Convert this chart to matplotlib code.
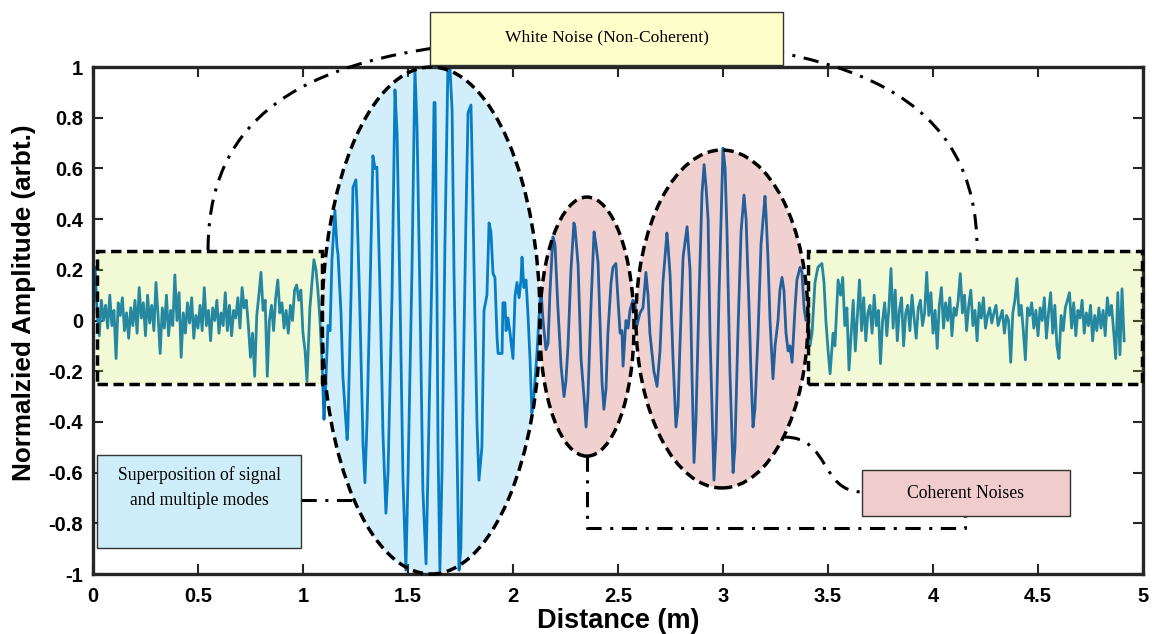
import numpy as np
import matplotlib
matplotlib.use('Agg')
import matplotlib.pyplot as plt
from matplotlib import font_manager
from matplotlib.patches import Ellipse, Rectangle, PathPatch
from matplotlib.path import Path

# ---- values ----
# white noise before the signal, 0.01 m spacing starting at 0 m
noise_left = [0.10, 0.21, 0.03, -0.06, 0.08, 0.00, 0.06, -0.03, 0.10, -0.02,
              0.04, -0.15, 0.07, 0.02, 0.09, -0.04, 0.03, -0.07, 0.05, -0.02,
              0.08, -0.05, 0.13, 0.01, 0.07, -0.06, 0.10, -0.01, 0.06, -0.04,
              0.15, 0.02, -0.13, 0.05, -0.03, 0.10, -0.06, 0.04, -0.02, 0.18,
              0.00, 0.11, -0.145, 0.03, -0.05, 0.07, -0.01, 0.09, -0.07, 0.02,
              -0.03, 0.06, -0.04, 0.13, -0.02, 0.04, -0.08, 0.05, 0.00, 0.08,
              -0.05, 0.03, -0.02, 0.11, -0.04, 0.06, -0.06, 0.04, 0.01, 0.09,
              -0.03, 0.13, 0.05, 0.08, -0.02, -0.145, -0.05, -0.22, 0.02, 0.10,
              0.19, 0.04, 0.08, -0.22, 0.00, 0.06, -0.04, 0.09, 0.16, 0.03,
              0.07, -0.03, 0.04, -0.05, 0.06, 0.00, 0.12, 0.14, 0.08, 0.12,
              -0.05]

# signal + modes + coherent noise (distance in m, amplitude)
osc_dist = [1.010, 1.019, 1.033, 1.052, 1.062, 1.071, 1.081, 1.090, 1.100, 1.107,
            1.119, 1.129, 1.138, 1.152, 1.162, 1.167, 1.181, 1.190, 1.210, 1.214,
            1.229, 1.238, 1.252, 1.257, 1.271, 1.286, 1.295, 1.305, 1.319, 1.333,
            1.343, 1.352, 1.367, 1.381, 1.395, 1.405, 1.424, 1.438, 1.448, 1.462,
            1.476, 1.490, 1.500, 1.519, 1.533, 1.543, 1.557, 1.571, 1.586, 1.595,
            1.614, 1.624, 1.629, 1.638, 1.643, 1.652, 1.662, 1.676, 1.690, 1.700,
            1.710, 1.719, 1.733, 1.743, 1.752, 1.762, 1.776, 1.786, 1.800, 1.805,
            1.819, 1.829, 1.838, 1.852, 1.862, 1.876, 1.886, 1.895, 1.905, 1.914,
            1.924, 1.929, 1.948, 1.952, 1.962, 1.967, 1.976, 1.986, 2.000, 2.010,
            2.019, 2.029, 2.038, 2.043, 2.052, 2.062, 2.071, 2.081, 2.090, 2.100,
            2.114, 2.124, 2.133, 2.143, 2.157, 2.167, 2.176, 2.190, 2.200, 2.214,
            2.229, 2.243, 2.252, 2.262, 2.276, 2.290, 2.295, 2.310, 2.324, 2.338,
            2.348, 2.357, 2.371, 2.386, 2.395, 2.405, 2.414, 2.424, 2.433, 2.443,
            2.452, 2.467, 2.476, 2.490, 2.495, 2.510, 2.519, 2.524, 2.538, 2.548,
            2.557, 2.571, 2.581, 2.590, 2.605, 2.619, 2.633, 2.643, 2.652, 2.671,
            2.686, 2.700, 2.714, 2.733, 2.738, 2.748, 2.762, 2.776, 2.786, 2.795,
            2.810, 2.829, 2.843, 2.852, 2.862, 2.871, 2.886, 2.900, 2.910, 2.919,
            2.929, 2.938, 2.957, 2.967, 2.981, 3.000, 3.010, 3.019, 3.033, 3.048,
            3.057, 3.071, 3.086, 3.100, 3.110, 3.124, 3.133, 3.143, 3.152, 3.167,
            3.181, 3.200, 3.205, 3.214, 3.224, 3.238, 3.248, 3.262, 3.271, 3.281,
            3.290, 3.300, 3.310, 3.319, 3.329, 3.343, 3.352, 3.367, 3.376, 3.386,
            3.395, 3.405, 3.414, 3.424, 3.438, 3.452, 3.471, 3.481, 3.490, 3.500,
            3.510, 3.524, 3.533, 3.548]
osc_amp = [-0.12, -0.24, 0.05, 0.24, 0.20, 0.12, 0.00, -0.15, -0.39, -0.28,
           -0.02, -0.04, 0.24, 0.435, 0.29, 0.26, 0.03, -0.22, -0.47, -0.42,
           0.11, 0.525, 0.555, 0.46, 0.04, -0.49, -0.64, -0.40, 0.11, 0.65,
           0.60, 0.605, 0.11, -0.45, -0.76, -0.60, 0.10, 0.91, 0.74, 0.10,
           -0.62, -0.985, -0.62, 0.20, 0.995, 0.765, 0.10, -0.67, -0.96, -0.60,
           0.20, 0.86, 0.86, 0.10, -0.50, -0.985, -0.60, 0.30, 0.995, 0.995,
           0.83, 0.20, -0.50, -0.985, -0.90, -0.30, 0.40, 0.82, 0.85, 0.65,
           0.00, -0.42, -0.63, -0.50, 0.04, 0.10, 0.385, 0.35, 0.185, 0.17,
           -0.065, -0.13, -0.13, 0.07, 0.07, -0.04, 0.01, -0.05, -0.15, 0.10,
           0.15, 0.09, 0.16, 0.25, 0.13, 0.16, 0.03, -0.15, -0.365, -0.29,
           -0.13, 0.015, 0.13, 0.00, -0.115, -0.09, 0.11, 0.33, 0.30, 0.05,
           -0.18, -0.30, -0.24, -0.10, 0.20, 0.385, 0.37, 0.22, -0.15, -0.30,
           -0.42, -0.30, 0.05, 0.35, 0.30, 0.23, 0.00, -0.245, -0.35, -0.27,
           -0.05, 0.15, 0.21, 0.225, 0.15, -0.05, -0.04, -0.18, 0.00, -0.03,
           0.04, 0.08, 0.07, -0.02, 0.03, 0.05, 0.19, 0.10, -0.05, -0.20,
           -0.26, -0.12, 0.15, 0.345, 0.30, 0.18, -0.15, -0.42, -0.34, -0.10,
           0.25, 0.37, 0.20, -0.20, -0.56, -0.40, 0.10, 0.50, 0.615, 0.53,
           0.40, -0.05, -0.63, -0.45, 0.10, 0.68, 0.60, 0.35, -0.20, -0.60,
           -0.50, -0.05, 0.35, 0.495, 0.40, 0.05, -0.20, -0.42, -0.35, -0.05,
           0.30, 0.49, 0.42, 0.25, 0.00, -0.23, -0.10, 0.00, 0.12, 0.17,
           0.12, -0.05, -0.12, -0.10, -0.165, 0.05, 0.16, 0.21, 0.19, 0.05,
           0.00, 0.02, -0.10, -0.05, 0.15, 0.21, 0.225, 0.15, 0.00, -0.115,
           -0.21, -0.05, -0.10, 0.16]

# white noise after the signal, 0.01 m spacing from 3.56 m
noise_right = [0.10, 0.17, -0.02, 0.05, -0.195, -0.06, 0.08, -0.12, 0.02, 0.16,
               -0.04, 0.09, -0.08, 0.03, 0.06, -0.05, 0.10, -0.02, 0.04, -0.17,
               0.00, 0.07, -0.06, 0.05, 0.205, -0.03, 0.12, -0.08, 0.04, 0.09,
               -0.10, 0.03, 0.06, -0.04, 0.10, 0.01, -0.07, 0.05, 0.08, -0.02,
               0.03, 0.19, 0.02, 0.11, -0.05, 0.04, -0.11, 0.06, 0.13, -0.03,
               0.07, 0.00, 0.09, -0.06, 0.05, 0.02, 0.08, 0.185, 0.03, 0.10,
               -0.04, 0.06, 0.12, -0.02, 0.04, -0.08, 0.07, 0.01, 0.09, -0.03,
               0.02, 0.05, -0.01, 0.03, 0.06, -0.02, 0.01, 0.04, -0.05, 0.02,
               0.00, -0.165, 0.03, 0.08, 0.165, 0.02, 0.06, -0.04, -0.155, 0.05,
               0.02, 0.07, -0.03, 0.04, -0.06, 0.05, 0.00, 0.09, -0.07, 0.03,
               0.11, -0.05, 0.06, -0.10, -0.15, 0.02, -0.04, 0.05, 0.08, 0.11,
               -0.03, 0.07, -0.06, 0.04, 0.01, 0.08, -0.05, 0.03, -0.02, 0.06,
               -0.08, 0.02, -0.04, 0.05, -0.03, 0.04, -0.06, 0.09, 0.02, 0.06,
               -0.04, -0.15, 0.11, -0.135, 0.125, -0.08]

xticks = [0, 0.5, 1, 1.5, 2, 2.5, 3, 3.5, 4, 4.5, 5]
xtick_labels = ['0', '0.5', '1', '1.5', '2', '2.5', '3', '3.5', '4', '4.5', '5']
yticks = [-1, -0.8, -0.6, -0.4, -0.2, 0, 0.2, 0.4, 0.6, 0.8, 1]
ytick_labels = ['-1', '-0.8', '-0.6', '-0.4', '-0.2', '0', '0.2', '0.4', '0.6', '0.8', '1']

# ---- fonts ----
names = {f.name for f in font_manager.fontManager.ttflist}
sans = 'Liberation Sans Narrow' if 'Liberation Sans Narrow' in names else 'Liberation Sans'
plt.rcParams['font.family'] = [sans, 'DejaVu Sans']
plt.rcParams['font.weight'] = 'bold'
serif = ['Liberation Serif', 'DejaVu Serif']

x_left = np.linspace(0.0, 1.0, len(noise_left))
x_right = np.linspace(3.56, 3.56 + 0.01 * (len(noise_right) - 1), len(noise_right))
dist = np.concatenate([x_left, osc_dist, x_right])
amp = np.concatenate([noise_left, osc_amp, noise_right])

fig = plt.figure(figsize=(11.52, 6.34), dpi=100)
ax = fig.add_axes([0.0807, 0.0946, 0.9115, 0.7997])
ax.plot(dist, amp, color='#0072BD', lw=2.0, zorder=2)

ax.set_xlim(0, 5)
ax.set_ylim(-1, 1)
ax.set_xticks(xticks)
ax.set_xticklabels(xtick_labels)
ax.set_yticks(yticks)
ax.set_yticklabels(ytick_labels)
ax.tick_params(direction='in', length=7, width=1.5, top=True, right=True,
               labelsize=14.5, color='#262626')
ax.tick_params(axis='x', pad=9)
ax.tick_params(axis='y', pad=7)
for s in ax.spines.values():
    s.set_linewidth(2.4)
    s.set_color('#262626')
ax.set_xlabel('Distance (m)', fontsize=19.5, fontweight='bold', labelpad=1.5)
ax.set_ylabel('Normalzied Amplitude (arbt.)', fontsize=18.8, fontweight='bold')
ax.yaxis.set_label_coords(-0.054, 0.535)

dash = (0, (3, 1.6))
dashdot = (0, (5, 2.8, 1, 2.8))

# highlighted regions
yellow = (0.75, 0.89, 0.18, 0.2)
pink = (0.72, 0.06, 0.04, 0.19)
blue = (0.12, 0.67, 0.90, 0.2)
ax.add_patch(Rectangle((0.019, -0.25), 1.071, 0.524, fc=yellow, ec='k', lw=2.5,
                       ls=dash, zorder=3, clip_on=False))
ax.add_patch(Rectangle((3.405, -0.25), 1.59, 0.524, fc=yellow, ec='k', lw=2.5,
                       ls=dash, zorder=3, clip_on=False))
ax.add_patch(Ellipse((1.61, 0.0), 1.038, 2.0, fc=blue, ec='k', lw=2.5,
                     ls=dash, zorder=3, clip_on=False))
ax.add_patch(Ellipse((2.352, -0.024), 0.448, 1.022, fc=pink, ec='k', lw=2.5,
                     ls=dash, zorder=3, clip_on=False))
ax.add_patch(Ellipse((2.995, 0.006), 0.819, 1.333, fc=pink, ec='k', lw=2.5,
                     ls=dash, zorder=3, clip_on=False))

# arc linking both white noise boxes
arc = Path([(0.548, 0.278), (0.548, 0.862), (1.095, 1.114), (2.381, 1.114),
            (3.667, 1.114), (4.21, 0.862), (4.21, 0.278)],
           [Path.MOVETO] + [Path.CURVE4] * 6)
ax.add_patch(PathPatch(arc, fill=False, ec='k', lw=2.2, ls=dashdot, zorder=4, clip_on=False))

# connectors
ax.plot([0.99, 1.243], [-0.708, -0.708], color='k', lw=2.2, ls=dashdot, clip_on=False, zorder=4)
ax.plot([2.352, 2.352, 4.152, 4.152], [-0.535, -0.819, -0.819, -0.771],
        color='k', lw=2.2, ls=dashdot, clip_on=False, zorder=4)
hook = Path([(3.295, -0.46), (3.51, -0.46), (3.462, -0.676), (3.662, -0.676)],
            [Path.MOVETO, Path.CURVE4, Path.CURVE4, Path.CURVE4])
ax.add_patch(PathPatch(hook, fill=False, ec='k', lw=2.2, ls=dashdot, zorder=4, clip_on=False))

# text boxes
ax.add_patch(Rectangle((1.605, 1.008), 1.681, 0.209, fc='#ffffcc', ec='#333333', lw=1.0,
                       zorder=6, clip_on=False))
ax.text(2.448, 1.118, 'White Noise (Non-Coherent)', ha='center', va='center',
        fontsize=12.6, family=serif, weight='normal', zorder=7)
ax.add_patch(Rectangle((0.019, -0.898), 0.971, 0.367, fc='#cdeef9', ec='#333333', lw=1.0,
                       zorder=6, clip_on=False))
ax.text(0.505, -0.66, 'Superposition of signal\nand multiple modes', ha='center', va='center',
        fontsize=12.7, family=serif, weight='normal', linespacing=1.6, zorder=7)
ax.add_patch(Rectangle((3.662, -0.771), 0.99, 0.181, fc='#f0cccc', ec='#333333', lw=1.0,
                       zorder=6, clip_on=False))
ax.text(4.157, -0.683, 'Coherent Noises', ha='center', va='center',
        fontsize=12.7, family=serif, weight='normal', zorder=7)

fig.savefig('out.png', dpi=100)
